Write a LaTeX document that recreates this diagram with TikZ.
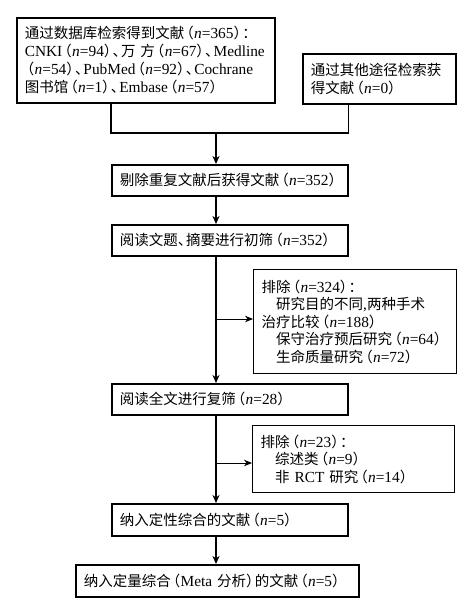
\documentclass[tikz,border=0pt]{standalone}
\usepackage{fontspec}
\setmainfont{Liberation Serif}[Scale=1.06]
\newfontfamily\cjk{Noto Sans CJK SC}
\newfontfamily\cjkp{Noto Sans CJK SC}[RawFeature=+halt]
\usetikzlibrary{arrows.meta}
\hyphenpenalty=10000
\newcommand\nn[1]{{\rmfamily\textit{n}=#1}}
\newcommand\en[1]{{\rmfamily #1}}
\newcommand\lp{\hspace{0.16em}{\cjkp （}\hspace{0.02em}}
\newcommand\rp{{\cjkp ）}\hspace{0.1em}}
\newcommand\dn{{\cjkp 、}\hspace{0.08em}}
\newcommand\cl{{\cjkp ：}}
\begin{document}
\begin{tikzpicture}[x=1pt,y=-1pt,
  box/.style={draw, line width=1.6pt, anchor=north west, inner xsep=8pt, inner ysep=0pt,
    align=left, font=\cjk\fontsize{14.5}{18}\selectfont},
  xbox/.style={box, line width=1.4pt, font=\cjk\fontsize{14.5}{17.5}\selectfont},
  conn/.style={line width=1.6pt},
  marr/.style={line width=1.6pt, -{Stealth[length=8pt,width=7pt,inset=2.5pt]}},
  sarr/.style={line width=0.9pt, -{Stealth[length=8pt,width=6.5pt,inset=2.5pt]}}]
\useasboundingbox (0,0) rectangle (467,604);
\node[box, text width=242pt, minimum height=85pt] (b1) at (16,17)
  {\mbox{通过数据库检索得到文献\lp\nn{365}\rp\cl}\\
   \mbox{\en{CNKI}\lp\nn{94}\rp\dn 万~方\lp\nn{67}\rp\dn\en{Medline}}\\
   \mbox{\lp\nn{54}\rp\dn\en{PubMed}\lp\nn{92}\rp\dn\en{Cochrane}}\\
   \mbox{图书馆\lp\nn{1}\rp\dn\en{Embase}\lp\nn{57}\rp}};
\node[box, text width=137pt, minimum height=50pt] (b2) at (302,53)
  {通过其他途径检索获\\得文献\lp\nn{0}\rp};
\node[box, text width=220pt, minimum height=31pt] (b3) at (111,164)
  {剔除重复文献后获得文献\lp\nn{352}\rp};
\node[box, text width=220pt, minimum height=31pt] (b4) at (111,224)
  {阅读文题\dn 摘要进行初筛\lp\nn{352}\rp};
\node[xbox, text width=187pt, minimum height=104pt] (x1) at (253,269)
  {排除\lp\nn{324}\rp\cl\\
   \hspace*{1em}研究目的不同\en{,}两种手术\\
   治疗比较\lp\nn{188}\rp\\
   \mbox{\hspace*{1em}保守治疗预后研究\lp\nn{64}\rp}\\
   \hspace*{1em}生命质量研究\lp\nn{72}\rp};
\node[box, text width=220pt, minimum height=31pt] (b5) at (111,383)
  {阅读全文进行复筛\lp\nn{28}\rp};
\node[xbox, text width=186pt, minimum height=67pt] (x2) at (252,425)
  {排除\lp\nn{23}\rp\cl\\
   \hspace*{1em}综述类\lp\nn{9}\rp\\
   \hspace*{1em}非~\en{RCT}~研究\lp\nn{14}\rp};
\node[box, text width=220pt, minimum height=32pt] (b6) at (111,503)
  {纳入定性综合的文献\lp\nn{5}\rp};
\node[box, text width=267pt, minimum height=32pt] (b7) at (75,564)
  {\mbox{纳入定量综合\lp\en{Meta}~分析\rp 的文献\lp\nn{5}\rp}};
\coordinate (j) at (216,133);
\coordinate (s1) at (216,319);
\coordinate (s2) at (216,463);
\draw[conn] (b1.south -| b3.west) |- (j) -| (b2.south -| b3.east);
\draw[marr] (j) -- (j |- b3.north);
\draw[marr] (b3.south -| j) -- (b4.north -| j);
\draw[marr] (b4.south -| j) -- (b5.north -| j);
\draw[sarr] (s1) -- (s1 -| x1.west);
\draw[marr] (b5.south -| j) -- (b6.north -| j);
\draw[sarr] (s2) -- (s2 -| x2.west);
\draw[marr] (b6.south -| j) -- (b7.north -| j);
\end{tikzpicture}
\end{document}
